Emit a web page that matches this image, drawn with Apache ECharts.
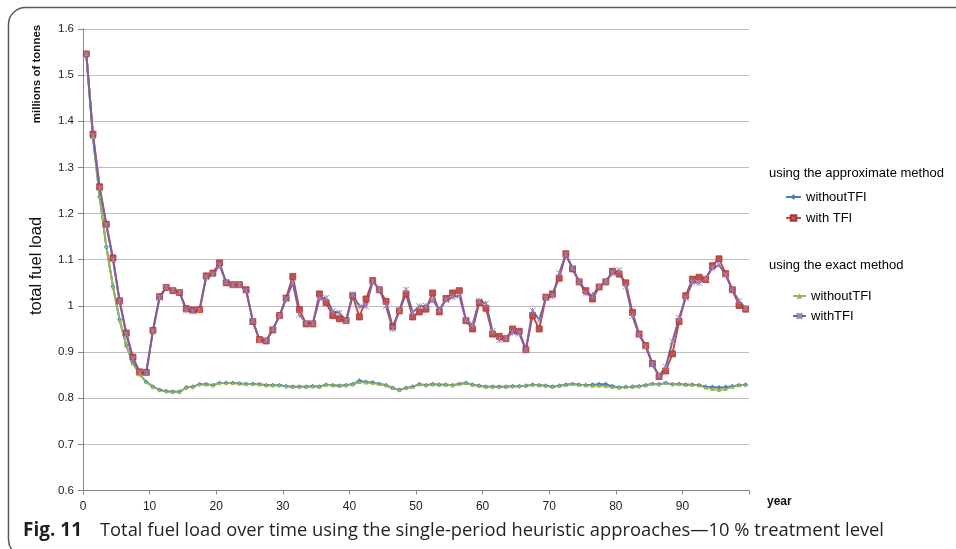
<!DOCTYPE html>
<html>
<head>
<meta charset="utf-8">
<script src="https://cdn.jsdelivr.net/npm/echarts@6/dist/echarts.min.js"></script>
<style>
html,body{margin:0;padding:0;background:#fff;}
#chart{width:956px;height:549px;}
</style>
</head>
<body>
<div id="chart"></div>
<script>
// Simulation years 0..99 (one point per year)
const years = Array.from({ length: 100 }, (_, i) => String(i));

// Total fuel load (millions of tonnes), approximate method
const approxWithoutTFI = [
  1.546, 1.365, 1.236, 1.128, 1.042, 0.970, 0.914, 0.876, 0.852, 0.835,
  0.825, 0.818, 0.815, 0.814, 0.814, 0.823, 0.825, 0.830, 0.830, 0.828,
  0.833, 0.833, 0.833, 0.832, 0.831, 0.831, 0.830, 0.828, 0.828, 0.828,
  0.826, 0.825, 0.825, 0.825, 0.826, 0.825, 0.829, 0.828, 0.827, 0.828,
  0.830, 0.838, 0.835, 0.834, 0.831, 0.828, 0.822, 0.818, 0.822, 0.825,
  0.830, 0.828, 0.830, 0.829, 0.829, 0.828, 0.831, 0.833, 0.829, 0.827,
  0.825, 0.825, 0.825, 0.825, 0.826, 0.826, 0.827, 0.829, 0.828, 0.827,
  0.825, 0.827, 0.829, 0.831, 0.829, 0.828, 0.829, 0.830, 0.830, 0.826,
  0.823, 0.824, 0.825, 0.826, 0.828, 0.831, 0.830, 0.833, 0.830, 0.831,
  0.829, 0.829, 0.828, 0.825, 0.824, 0.823, 0.824, 0.826, 0.828, 0.829
];
const approxWithTFI = [
  1.546, 1.372, 1.258, 1.177, 1.104, 1.011, 0.941, 0.889, 0.857, 0.856,
  0.947, 1.020, 1.040, 1.033, 1.029, 0.994, 0.991, 0.992, 1.065, 1.071,
  1.093, 1.050, 1.046, 1.046, 1.035, 0.966, 0.927, 0.924, 0.948, 0.979,
  1.017, 1.064, 0.992, 0.961, 0.961, 1.026, 1.007, 0.979, 0.972, 0.968,
  1.022, 0.976, 1.015, 1.055, 1.035, 1.010, 0.955, 0.989, 1.026, 0.976,
  0.987, 0.993, 1.028, 0.987, 1.016, 1.028, 1.033, 0.968, 0.950, 1.007,
  0.995, 0.939, 0.934, 0.929, 0.950, 0.945, 0.905, 0.979, 0.950, 1.019,
  1.026, 1.060, 1.113, 1.080, 1.052, 1.033, 1.015, 1.041, 1.052, 1.075,
  1.069, 1.050, 0.986, 0.939, 0.914, 0.875, 0.847, 0.859, 0.896, 0.966,
  1.022, 1.058, 1.062, 1.057, 1.087, 1.102, 1.070, 1.035, 1.001, 0.993
];

// Total fuel load (millions of tonnes), exact method
const exactWithoutTFI = [
  1.546, 1.366, 1.237, 1.130, 1.042, 0.970, 0.914, 0.876, 0.852, 0.835,
  0.825, 0.818, 0.815, 0.814, 0.814, 0.823, 0.825, 0.830, 0.830, 0.828,
  0.833, 0.833, 0.833, 0.832, 0.831, 0.831, 0.830, 0.828, 0.828, 0.828,
  0.826, 0.825, 0.825, 0.825, 0.826, 0.825, 0.829, 0.828, 0.827, 0.828,
  0.830, 0.835, 0.834, 0.833, 0.831, 0.828, 0.822, 0.818, 0.822, 0.825,
  0.830, 0.828, 0.830, 0.829, 0.829, 0.828, 0.831, 0.833, 0.829, 0.827,
  0.825, 0.825, 0.825, 0.825, 0.826, 0.826, 0.827, 0.829, 0.828, 0.827,
  0.825, 0.827, 0.829, 0.831, 0.829, 0.828, 0.827, 0.827, 0.826, 0.824,
  0.823, 0.824, 0.825, 0.826, 0.828, 0.831, 0.830, 0.833, 0.830, 0.831,
  0.829, 0.829, 0.828, 0.823, 0.820, 0.818, 0.820, 0.825, 0.828, 0.829
];
const exactWithTFI = [
  1.546, 1.368, 1.255, 1.175, 1.100, 1.010, 0.938, 0.885, 0.855, 0.855,
  0.945, 1.018, 1.040, 1.035, 1.030, 0.990, 0.988, 0.990, 1.062, 1.068,
  1.088, 1.052, 1.045, 1.045, 1.033, 0.968, 0.925, 0.925, 0.950, 0.978,
  1.015, 1.050, 0.981, 0.963, 0.962, 1.015, 1.017, 0.988, 0.985, 0.968,
  1.025, 0.999, 0.999, 1.053, 1.036, 1.000, 0.950, 0.990, 1.035, 0.986,
  0.999, 1.000, 1.013, 0.992, 1.013, 1.019, 1.022, 0.970, 0.959, 1.011,
  1.005, 0.945, 0.926, 0.930, 0.942, 0.940, 0.905, 0.990, 0.970, 1.017,
  1.021, 1.071, 1.111, 1.082, 1.053, 1.027, 1.023, 1.042, 1.053, 1.071,
  1.077, 1.042, 0.978, 0.937, 0.912, 0.873, 0.849, 0.868, 0.923, 0.974,
  1.017, 1.051, 1.050, 1.060, 1.082, 1.089, 1.067, 1.035, 1.010, 0.995
];

// Text shown in the two legend blocks
const legendLabels = {
  approxWithout: 'withoutTFI',
  approxWith: 'with TFI',
  exactWithout: 'withoutTFI',
  exactWith: 'withTFI'
};
const legendHeaders = ['using the approximate method', 'using the exact method'];
const captionBold = 'Fig. 11';
const captionText = 'Total fuel load over time using the single-period heuristic approaches\u201410 % treatment level';

const SANS = '"Liberation Sans", Arial, sans-serif';
const CAP = '"Open Sans", "Noto Sans", sans-serif';

// horizontal squeeze so the caption runs the same length as the printed one
function squeeze(text, font, width) {
  const ctx = document.createElement('canvas').getContext('2d');
  ctx.font = font;
  return width / ctx.measureText(text).width;
}
const boldScale = squeeze(captionBold, 'bold 19px ' + CAP, 59);
const textScale = squeeze(captionText, '19px ' + CAP, 784);

const BLUE = '#4a7ebb', RED = '#be4b48', GREEN = '#98b954', PURPLE = '#7d60a0';
const AXIS = '#868686';

const chart = echarts.init(document.getElementById('chart'));

chart.setOption({
  animation: false,
  backgroundColor: '#fff',
  grid: { left: 83, top: 29, right: 207, bottom: 58.5, containLabel: false },
  xAxis: [
    {
      type: 'value', min: 0, max: 100, interval: 10, position: 'bottom',
      axisLine: { lineStyle: { color: AXIS, width: 1 } },
      axisTick: { show: true, length: 4, lineStyle: { color: AXIS } },
      splitLine: { show: false },
      axisLabel: {
        margin: 10, fontSize: 12, color: '#222', fontFamily: SANS,
        formatter: v => (v === 100 ? '' : String(v))
      },
      name: 'year', nameLocation: 'end', nameGap: 18,
      nameTextStyle: {
        fontFamily: SANS, fontSize: 12, fontWeight: 'bold', color: '#111',
        verticalAlign: 'top', padding: [5, 0, 0, 0]
      }
    },
    { type: 'category', data: years, boundaryGap: true, show: false, position: 'bottom' }
  ],
  yAxis: {
    type: 'value', min: 0.6, max: 1.6, interval: 0.1,
    axisLine: { show: true, lineStyle: { color: AXIS } },
    axisTick: { show: true, length: 5, lineStyle: { color: AXIS } },
    splitLine: { show: true, lineStyle: { color: '#bdbdbd', width: 1 } },
    axisLabel: { margin: 9, fontSize: 11.5, color: '#222', fontFamily: SANS }
  },
  legend: [
    {
      data: ['approxWithout', 'approxWith'],
      orient: 'vertical', left: 785, top: 190, padding: 0,
      itemWidth: 15, itemHeight: 7, itemGap: 7,
      textStyle: { fontFamily: SANS, fontSize: 13, color: '#000', lineHeight: 14 },
      formatter: n => legendLabels[n], selectedMode: false
    },
    {
      data: ['exactWithout', 'exactWith'],
      orient: 'vertical', left: 792, top: 289, padding: 0,
      itemWidth: 13, itemHeight: 7, itemGap: 6,
      textStyle: { fontFamily: SANS, fontSize: 13, color: '#000', lineHeight: 14 },
      formatter: n => legendLabels[n], selectedMode: false
    }
  ],
  series: [
    {
      name: 'approxWithout', type: 'line', xAxisIndex: 1, data: approxWithoutTFI,
      symbol: 'diamond', symbolSize: 5, showAllSymbol: true,
      lineStyle: { color: BLUE, width: 2 }, itemStyle: { color: BLUE }
    },
    {
      name: 'approxWith', type: 'line', xAxisIndex: 1, data: approxWithTFI,
      symbol: 'rect', symbolSize: 6, showAllSymbol: true,
      lineStyle: { color: RED, width: 2 },
      itemStyle: { color: '#c4504c', borderColor: '#a33b38', borderWidth: 0.8 }
    },
    {
      name: 'exactWithout', type: 'line', xAxisIndex: 1, data: exactWithoutTFI,
      symbol: 'triangle', symbolSize: 4, showAllSymbol: true,
      lineStyle: { color: GREEN, width: 2 }, itemStyle: { color: GREEN }
    },
    {
      name: 'exactWith', type: 'line', xAxisIndex: 1, data: exactWithTFI,
      symbol: 'path://M0,0L10,10M10,0L0,10M5,0L5,10', symbolSize: 6, showAllSymbol: true,
      lineStyle: { color: PURPLE, width: 2 },
      itemStyle: { color: PURPLE, borderColor: '#9a86c0', borderWidth: 1 }
    }
  ],
  graphic: [
    // figure frame with rounded corners
    {
      type: 'rect', silent: true, z: -1,
      shape: { x: 8.5, y: 7.5, width: 1010, height: 549, r: 17 },
      style: { fill: 'none', stroke: '#5a5a5a', lineWidth: 1.5 }
    },
    {
      type: 'text', x: 37, y: 74, rotation: Math.PI / 2, silent: true,
      style: { text: 'millions of tonnes', fontFamily: SANS, fontSize: 11.5, fontWeight: 'bold',
               fill: '#111', align: 'center', verticalAlign: 'middle' }
    },
    {
      type: 'text', x: 36, y: 266, rotation: Math.PI / 2, silent: true,
      style: { text: 'total fuel load', fontFamily: SANS, fontSize: 16.5,
               fill: '#111', align: 'center', verticalAlign: 'middle' }
    },
    {
      type: 'text', x: 769, y: 173, silent: true,
      style: { text: legendHeaders[0], fontFamily: SANS, fontSize: 13, fill: '#000',
               align: 'left', verticalAlign: 'middle' }
    },
    {
      type: 'text', x: 769, y: 265, silent: true,
      style: { text: legendHeaders[1], fontFamily: SANS, fontSize: 13, fill: '#000',
               align: 'left', verticalAlign: 'middle' }
    },
    {
      type: 'text', x: 23, y: 531, scaleX: boldScale, silent: true,
      style: { text: captionBold, fontFamily: CAP, fontSize: 19, fontWeight: 'bold',
               fill: '#231f20', align: 'left', verticalAlign: 'middle' }
    },
    {
      type: 'text', x: 100, y: 531, scaleX: textScale, silent: true,
      style: { text: captionText, fontFamily: CAP, fontSize: 19,
               fill: '#231f20', align: 'left', verticalAlign: 'middle' }
    }
  ]
});
</script>
</body>
</html>
